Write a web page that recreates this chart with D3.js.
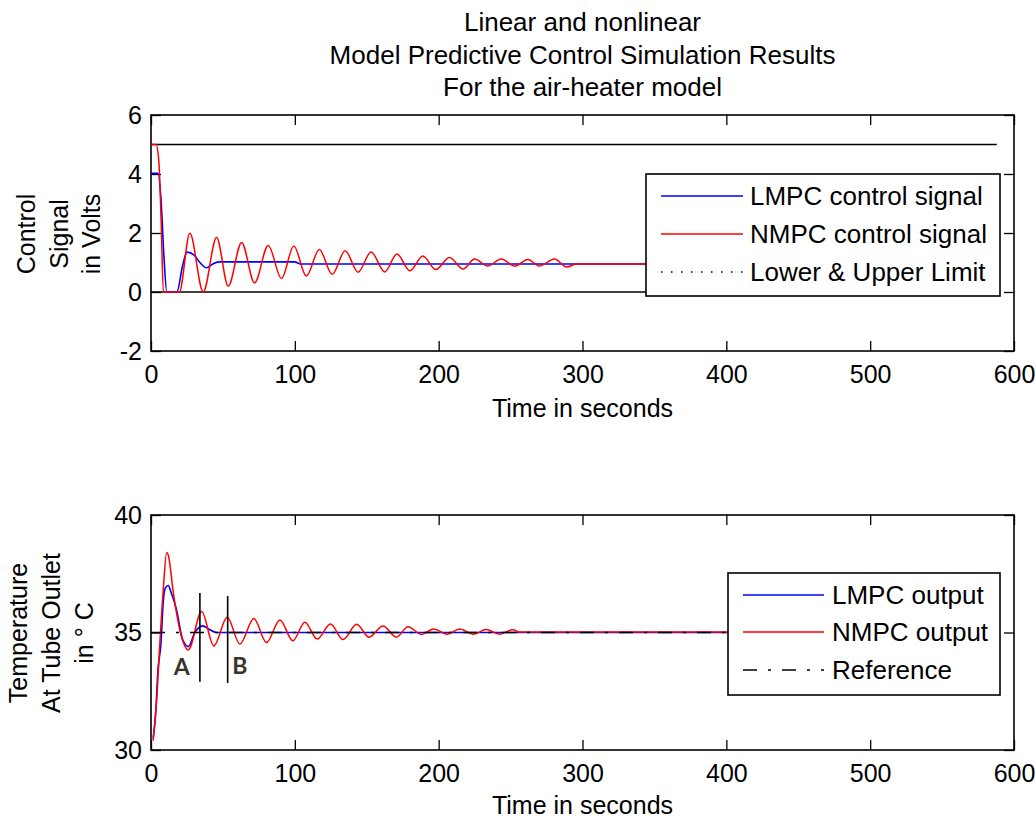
<!DOCTYPE html>
<html>
<head>
<meta charset="utf-8">
<script src="https://cdn.jsdelivr.net/npm/d3@7"></script>
<style>
  body { margin: 0; background: #fff; }
  svg text { font-family: "Liberation Sans", Arial, sans-serif; fill: #000; }
</style>
</head>
<body>
<div id="chart"></div>
<script>
// ---- data ----
var titleLines = ["Linear and nonlinear", "Model Predictive Control Simulation Results", "For the air-heater model"];
var xTicks = [0, 100, 200, 300, 400, 500, 600];
var topYTicks = [-2, 0, 2, 4, 6];
var botYTicks = [30, 35, 40];
var topYLabel = ["Control", "Signal", "in Volts"];
var botYLabel = ["Temperature", "At Tube Outlet", "in \u00B0 C"];
var xLabel = "Time in seconds";
var tEnd = 588;

// control signals [time s, volts]
var lmpcControl = [[0, 4.02], [5, 4.02], [7, 3.1], [9, 1.2], [11, 0], [18, 0], [22, 0.9], [25, 1.35], [30, 1.25],
  [34, 1.0], [38.7, 0.82], [43, 0.95], [47, 1.02], [100, 1.02], [104, 0.95], [588, 0.95]];
var nmpcControl = [[0, 5], [3.5, 5], [5.5, 4.4], [7, 2.5], [8.6, 0], [19.7, 0], [27, 1.99], [36.3, 0], [45.6, 1.85],
  [53.7, 0.2], [63, 1.68], [72, 0.31], [81.5, 1.58], [90.7, 0.46], [99.3, 1.56], [108, 0.54], [117, 1.44],
  [126, 0.6], [135, 1.4], [144, 0.67], [153, 1.36], [162.5, 0.68], [171, 1.29], [180, 0.72], [189, 1.22],
  [198, 0.76], [207.5, 1.17], [217, 0.78], [225, 1.12], [234, 0.88], [243.5, 1.12], [253, 0.88], [262, 1.1],
  [270, 0.88], [280.5, 1.12], [289, 0.85], [296, 0.95], [588, 0.95]];
var lowerLimit = 0;
var upperLimit = 5;

// outputs [time s, deg C]
var lmpcOutput = [[1.5, 30.5], [3.5, 31.8], [4.6, 33.2], [7, 34.6], [8.5, 36.3], [10, 36.9], [12, 37.0], [14, 36.7],
  [17.6, 36.0], [22, 34.7], [26, 34.4], [30.5, 35.0], [36, 35.28], [40, 35.15], [45.5, 35.0], [588, 35.0]];
var nmpcOutput = [[1.5, 30.4], [3.9, 32.1], [6.2, 34.6], [8.5, 36.8], [10.9, 38.4], [12, 38.3], [15.5, 36.7],
  [21.3, 34.8], [25.9, 34.26], [35.2, 35.89], [43.7, 34.43], [53, 35.65], [61.8, 34.51], [71.5, 35.6],
  [80.3, 34.57], [89.6, 35.53], [98.6, 34.65], [107, 35.44], [115.5, 34.72], [124.8, 35.36], [133.5, 34.7],
  [143, 35.35], [151.6, 34.8], [161.3, 35.28], [170.6, 34.8], [178.7, 35.25], [188, 34.92], [196.5, 35.15],
  [206, 34.93], [214.6, 35.15], [224.3, 34.93], [233, 35.13], [242.4, 34.93], [251.6, 35.12], [256, 35.02],
  [588, 35.02]];
var reference = 35;

// marker lines A / B: [time, from, to]
var markLines = [[34, 36.68, 32.9], [53.3, 36.55, 32.85]];
var markLabels = [["A", 21.3, 33.2], ["B", 61.8, 33.25]];

var topLegend = ["LMPC control signal", "NMPC control signal", "Lower & Upper Limit"];
var botLegend = ["LMPC output", "NMPC output", "Reference"];

// ---- drawing ----
var W = 1035, H = 820;
var svg = d3.select("#chart").append("svg").attr("width", W).attr("height", H);

var x = d3.scaleLinear().domain([0, 600]).range([151, 1014]);
var yTop = d3.scaleLinear().domain([-2, 6]).range([351, 115]);
var yBot = d3.scaleLinear().domain([30, 40]).range([750, 515]);

var FS = 25;

function axesFrame(y, yTicks) {
    var g = svg.append("g");
    var top = y.range()[1], bot = y.range()[0];
    var left = x.range()[0], right = x.range()[1];

    var ax = g.append("g").attr("transform", "translate(0," + bot + ")")
        .call(d3.axisBottom(x).tickValues(xTicks).tickSizeInner(-10).tickSizeOuter(0).tickPadding(14).tickFormat(String));
    ax.selectAll("text").style("font-size", FS + "px");
    g.append("g").attr("transform", "translate(0," + top + ")")
        .call(d3.axisTop(x).tickValues(xTicks).tickSizeInner(-10).tickSizeOuter(0).tickFormat(""));
    var ay = g.append("g").attr("transform", "translate(" + left + ",0)")
        .call(d3.axisLeft(y).tickValues(yTicks).tickSizeInner(-10).tickSizeOuter(0).tickPadding(9).tickFormat(String));
    ay.selectAll("text").style("font-size", FS + "px");
    g.append("g").attr("transform", "translate(" + right + ",0)")
        .call(d3.axisRight(y).tickValues(yTicks).tickSizeInner(-10).tickSizeOuter(0).tickFormat(""));
    g.selectAll(".domain").remove();
    g.selectAll(".tick line").attr("stroke", "#000").attr("stroke-width", 1.3);
    g.append("rect").attr("x", left).attr("y", top).attr("width", right - left).attr("height", bot - top)
        .attr("fill", "none").attr("stroke", "#000").attr("stroke-width", 1.6);
    return g;
}

function lineGen(y) {
    return d3.line().x(function (d) { return x(d[0]); }).y(function (d) { return y(d[1]); })
        .curve(d3.curveMonotoneX);
}

function legend(x0, y0, w, h, rows, styles, lineX0, lineX1, textX, rowYs) {
    var g = svg.append("g");
    g.append("rect").attr("x", x0).attr("y", y0).attr("width", w).attr("height", h)
        .attr("fill", "#fff").attr("stroke", "#000").attr("stroke-width", 1.6);
    rows.forEach(function (r, i) {
        g.append("line").attr("x1", lineX0).attr("x2", lineX1).attr("y1", rowYs[i]).attr("y2", rowYs[i])
            .attr("stroke", styles[i].color).attr("stroke-width", 1.5)
            .attr("stroke-dasharray", styles[i].dash || null);
        g.append("text").attr("x", textX).attr("y", rowYs[i]).attr("dy", "0.36em")
            .style("font-size", "26px").text(r);
    });
}

// title
svg.append("g").selectAll("text").data(titleLines).enter().append("text")
    .attr("x", (x.range()[0] + x.range()[1]) / 2)
    .attr("y", function (d, i) { return 31 + i * 32.5; })
    .attr("text-anchor", "middle").style("font-size", "26px")
    .text(function (d) { return d; });

// ---- top panel ----
axesFrame(yTop, topYTicks);
var lt = lineGen(yTop);
[lowerLimit, upperLimit].forEach(function (v) {
    svg.append("path").datum([[0, v], [tEnd, v]]).attr("d", d3.line().x(function (d) { return x(d[0]); })
        .y(function (d) { return yTop(d[1]); }))
        .attr("fill", "none").attr("stroke", "#000").attr("stroke-width", 1.5);
});
svg.append("path").datum(lmpcControl).attr("d", lt).attr("fill", "none").attr("stroke", "#0000ff").attr("stroke-width", 1.6);
svg.append("path").datum(nmpcControl).attr("d", lt).attr("fill", "none").attr("stroke", "#ff0000").attr("stroke-width", 1.5);

svg.append("text").attr("x", (x.range()[0] + x.range()[1]) / 2).attr("y", 417)
    .attr("text-anchor", "middle").style("font-size", FS + "px").text(xLabel);
topYLabel.forEach(function (t, i) {
    svg.append("text").attr("transform", "translate(" + (35 + i * 32.5) + ",234) rotate(-90)")
        .attr("text-anchor", "middle").style("font-size", FS + "px").text(t);
});

legend(646, 174, 354, 122, topLegend,
    [{color: "#0000ff"}, {color: "#ff0000"}, {color: "#000", dash: "1.5,8.5"}],
    661, 743, 750, [196, 234, 272]);

// ---- bottom panel ----
axesFrame(yBot, botYTicks);
var lb = lineGen(yBot);
svg.append("path").datum(lmpcOutput).attr("d", lb).attr("fill", "none").attr("stroke", "#0000ff").attr("stroke-width", 1.6);
svg.append("path").datum(nmpcOutput).attr("d", lb).attr("fill", "none").attr("stroke", "#ff0000").attr("stroke-width", 1.5);
svg.append("path").datum([[0, reference], [tEnd, reference]])
    .attr("d", d3.line().x(function (d) { return x(d[0]); }).y(function (d) { return yBot(d[1]); }))
    .attr("fill", "none").attr("stroke", "#000").attr("stroke-width", 1.5).attr("stroke-dasharray", "14,11,3,11");

markLines.forEach(function (m) {
    svg.append("line").attr("x1", x(m[0])).attr("x2", x(m[0])).attr("y1", yBot(m[1])).attr("y2", yBot(m[2]))
        .attr("stroke", "#000").attr("stroke-width", 1.6);
});
markLabels.forEach(function (m) {
    svg.append("text").attr("x", x(m[1])).attr("y", yBot(m[2])).attr("text-anchor", "middle")
        .style("font-family", "Lato, 'Open Sans', sans-serif").style("font-size", "23px")
        .style("font-weight", "bold").style("fill", "#3b3326").text(m[0]);
});

svg.append("text").attr("x", (x.range()[0] + x.range()[1]) / 2).attr("y", 814)
    .attr("text-anchor", "middle").style("font-size", FS + "px").text(xLabel);
botYLabel.forEach(function (t, i) {
    svg.append("text").attr("transform", "translate(" + (27 + i * 33) + ",633) rotate(-90)")
        .attr("text-anchor", "middle").style("font-size", FS + "px").text(t);
});

legend(728, 573, 272, 122, botLegend,
    [{color: "#0000ff"}, {color: "#ff0000"}, {color: "#000", dash: "14,11,3,11"}],
    743, 824, 832, [595, 632, 670]);
</script>
</body>
</html>
